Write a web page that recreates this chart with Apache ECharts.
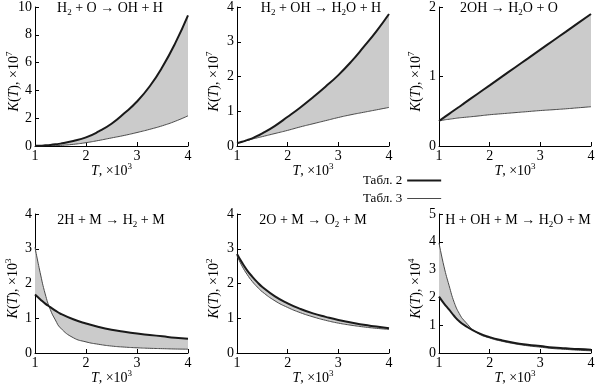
<!DOCTYPE html>
<html><head><meta charset="utf-8">
<script src="https://cdn.jsdelivr.net/npm/echarts@6/dist/echarts.min.js"></script>
<style>html,body{margin:0;padding:0;background:#fff}#c{width:598px;height:387px}</style>
</head><body><div id="c"></div>
<script>
// Temperature grid (×10^3 K)
const T = [1, 1.1, 1.2, 1.3, 1.4, 1.5, 1.75, 2, 2.25, 2.5, 2.75, 3, 3.25, 3.5, 3.75, 4];
const xTicks = [1, 2, 3, 4];
const legendNames = ['Табл. 2', 'Табл. 3'];

// Panel 1: H2 + O -> OH + H  (×10^7)
const p1_tab2 = [0.01, 0.025, 0.05, 0.08, 0.12, 0.17, 0.36, 0.62, 1.05, 1.6, 2.35, 3.2, 4.3, 5.7, 7.4, 9.4];
const p1_tab3 = [0.003, 0.006, 0.012, 0.02, 0.03, 0.045, 0.12, 0.24, 0.4, 0.58, 0.76, 0.97, 1.2, 1.46, 1.78, 2.17];
// Panel 2: H2 + OH -> H2O + H  (×10^7)
const p2_tab2 = [0.08, 0.12, 0.17, 0.22, 0.29, 0.36, 0.58, 0.84, 1.11, 1.40, 1.71, 2.04, 2.42, 2.85, 3.3, 3.8];
const p2_tab3 = [0.08, 0.12, 0.16, 0.2, 0.235, 0.27, 0.36, 0.45, 0.55, 0.64, 0.73, 0.82, 0.9, 0.97, 1.04, 1.11];
// Panel 3: 2OH -> H2O + O  (×10^7)
const p3_tab2 = [0.36, 0.411, 0.463, 0.514, 0.565, 0.617, 0.745, 0.873, 1.002, 1.13, 1.258, 1.387, 1.515, 1.643, 1.772, 1.9];
const p3_tab3 = [0.36, 0.375, 0.385, 0.395, 0.405, 0.412, 0.43, 0.45, 0.465, 0.48, 0.495, 0.51, 0.522, 0.535, 0.55, 0.565];
// Panel 4: 2H + M -> H2 + M  (×10^3)
const p4_tab2 = [1.68, 1.55, 1.42, 1.32, 1.22, 1.13, 0.97, 0.85, 0.75, 0.67, 0.61, 0.56, 0.52, 0.48, 0.44, 0.41];
const p4_tab3 = [3.04, 2.32, 1.7, 1.25, 0.95, 0.72, 0.44, 0.32, 0.25, 0.2, 0.17, 0.15, 0.135, 0.125, 0.115, 0.11];
// Panel 5: 2O + M -> O2 + M  (×10^2)
const p5_tab2 = [2.85, 2.6, 2.38, 2.2, 2.04, 1.9, 1.63, 1.43, 1.27, 1.14, 1.04, 0.95, 0.88, 0.81, 0.76, 0.71];
const p5_tab3 = [2.8, 2.5, 2.26, 2.06, 1.9, 1.76, 1.5, 1.31, 1.16, 1.04, 0.94, 0.86, 0.8, 0.75, 0.71, 0.68];
// Panel 6: H + OH + M -> H2O + M  (×10^4)
const p6_tab2 = [2.03, 1.78, 1.56, 1.33, 1.14, 1.0, 0.74, 0.57, 0.45, 0.36, 0.3, 0.25, 0.2, 0.17, 0.14, 0.12];
const p6_tab3 = [3.96, 3.1, 2.42, 1.82, 1.42, 1.16, 0.73, 0.54, 0.42, 0.33, 0.26, 0.21, 0.16, 0.13, 0.1, 0.08];

const titles = [
  'H{sub|2} + O → OH + H',
  'H{sub|2} + OH → H{sub|2}O + H',
  '2OH → H{sub|2}O + O',
  '2H + M → H{sub|2} + M',
  '2O + M → O{sub|2} + M',
  'H + OH + M → H{sub|2}O + M'
];
const yMax = [10, 4, 2, 4, 4, 5];
const yInterval = [2, 1, 1, 1, 1, 1];
const yExp = ['7', '7', '7', '3', '2', '4'];

const tab2 = [p1_tab2, p2_tab2, p3_tab2, p4_tab2, p5_tab2, p6_tab2];
const tab3 = [p1_tab3, p2_tab3, p3_tab3, p4_tab3, p5_tab3, p6_tab3];

// layout (not data)
const gridRects = [[35, 7, 153, 139], [237, 7, 152, 139], [439, 7, 152, 139],
                   [35, 214, 153, 139], [237, 214, 152, 139], [439, 214, 152, 139]];
const yNameGap = [12, 14, 14, 13, 14, 14];
const titlePos = [[110, 8], [321, 8], [509, 8], [111, 220], [313, 220], [518, 220]];
const SMOOTH = 0.5;

const SERIF = 'Liberation Serif';
const nameRich = {
  i: { fontFamily: SERIF, fontSize: 14, fontStyle: 'italic', color: '#000', lineHeight: 18 },
  sup: { fontFamily: SERIF, fontSize: 9, color: '#000', verticalAlign: 'top', lineHeight: 9 }
};

// Same bezier construction that the line series uses, so the band edge follows the lines.
function smoothSegs(pts, smooth) {
  const segs = [];
  let prevX, prevY, cpx0, cpy0, cpx1, cpy1, nCx = 0, nCy = 0;
  const n = pts.length;
  for (let idx = 0; idx < n; idx++) {
    const x = pts[idx][0], y = pts[idx][1];
    if (idx === 0) { cpx0 = x; cpy0 = y; }
    else {
      const ddx = x - prevX, ddy = y - prevY;
      if (ddx * ddx + ddy * ddy < 0.5) continue;
      if (idx === n - 1) { cpx1 = x; cpy1 = y; }
      else {
        const nx = pts[idx + 1][0], ny = pts[idx + 1][1];
        let vx = nx - prevX, vy = ny - prevY;
        const dx0 = x - prevX, dx1 = nx - x, dy0 = y - prevY, dy1 = ny - y;
        const lp = Math.sqrt(dx0 * dx0 + dy0 * dy0), ln = Math.sqrt(dx1 * dx1 + dy1 * dy1);
        const r = ln / (ln + lp);
        nCx = x + vx * smooth * r; nCy = y + vy * smooth * r;
        nCx = Math.min(nCx, Math.max(nx, x)); nCy = Math.min(nCy, Math.max(ny, y));
        nCx = Math.max(nCx, Math.min(nx, x)); nCy = Math.max(nCy, Math.min(ny, y));
        vx = nCx - x; vy = nCy - y;
        cpx1 = x - vx * lp / ln; cpy1 = y - vy * lp / ln;
        cpx1 = Math.min(cpx1, Math.max(prevX, x)); cpy1 = Math.min(cpy1, Math.max(prevY, y));
        cpx1 = Math.max(cpx1, Math.min(prevX, x)); cpy1 = Math.max(cpy1, Math.min(prevY, y));
        vx = x - cpx1; vy = y - cpy1;
        nCx = x + vx * ln / lp; nCy = y + vy * ln / lp;
      }
      segs.push({ sx: prevX, sy: prevY, c0x: cpx0, c0y: cpy0, c1x: cpx1, c1y: cpy1, x: x, y: y });
      cpx0 = nCx; cpy0 = nCy;
    }
    prevX = x; prevY = y;
  }
  return segs;
}

const grid = [], xAxis = [], yAxis = [], series = [];
for (let k = 0; k < 6; k++) {
  const g = gridRects[k];
  grid.push({ left: g[0], top: g[1], width: g[2], height: g[3], outerBoundsMode: 'none', containLabel: false });
  xAxis.push({
    gridIndex: k, type: 'value', min: xTicks[0], max: xTicks[xTicks.length - 1], interval: 1,
    name: '{i|T}, ×10{sup|3}', nameLocation: 'middle', nameGap: 16, nameMoveOverlap: false,
    nameTextStyle: { fontFamily: SERIF, fontSize: 14, color: '#000', lineHeight: 18, rich: nameRich },
    axisLine: { show: true, lineStyle: { color: '#000', width: 1 } },
    axisTick: { show: true, inside: true, length: 4, lineStyle: { color: '#000' } },
    axisLabel: { fontFamily: SERIF, fontSize: 14, color: '#000', margin: 3, hideOverlap: false },
    splitLine: { show: false }
  });
  yAxis.push({
    gridIndex: k, type: 'value', min: 0, max: yMax[k], interval: yInterval[k],
    name: '{i|K}({i|T}), ×10{sup|' + yExp[k] + '}', nameLocation: 'middle', nameGap: yNameGap[k], nameMoveOverlap: false,
    nameTextStyle: { fontFamily: SERIF, fontSize: 14, color: '#000', lineHeight: 18, padding: [0, 10, 0, 0], rich: nameRich },
    axisLine: { show: true, lineStyle: { color: '#000', width: 1 } },
    axisTick: { show: true, inside: true, length: 4, lineStyle: { color: '#000' } },
    axisLabel: { fontFamily: SERIF, fontSize: 14, color: '#000', margin: 3, hideOverlap: false },
    splitLine: { show: false }
  });
  const a = tab2[k], b = tab3[k];
  series.push({
    type: 'custom', xAxisIndex: k, yAxisIndex: k, silent: true, z: 1,
    data: [[T[0], 0]],
    renderItem: function (params, api) {
      const pa = T.map((t, i) => api.coord([t, a[i]]));
      const pb = T.map((t, i) => api.coord([t, b[i]]));
      const sa = smoothSegs(pa, SMOOTH), sb = smoothSegs(pb, SMOOTH);
      let d = 'M' + pa[0][0] + ' ' + pa[0][1];
      sa.forEach(s => { d += 'C' + s.c0x + ' ' + s.c0y + ' ' + s.c1x + ' ' + s.c1y + ' ' + s.x + ' ' + s.y; });
      const lb = pb[pb.length - 1];
      d += 'L' + lb[0] + ' ' + lb[1];
      for (let j = sb.length - 1; j >= 0; j--) {
        const s = sb[j];
        d += 'C' + s.c1x + ' ' + s.c1y + ' ' + s.c0x + ' ' + s.c0y + ' ' + s.sx + ' ' + s.sy;
      }
      d += 'Z';
      return { type: 'path', shape: { pathData: d }, style: { fill: '#cbcbcb', stroke: null } };
    }
  });
  series.push({
    type: 'line', name: legendNames[1], xAxisIndex: k, yAxisIndex: k, z: 3,
    data: T.map((t, i) => [t, b[i]]), symbol: 'none', smooth: SMOOTH,
    lineStyle: { color: '#4a4a4a', width: 1 }, itemStyle: { color: '#4a4a4a' }
  });
  series.push({
    type: 'line', name: legendNames[0], xAxisIndex: k, yAxisIndex: k, z: 4,
    data: T.map((t, i) => [t, a[i]]), symbol: 'none', smooth: SMOOTH,
    lineStyle: { color: '#1a1a1a', width: 2 }, itemStyle: { color: '#1a1a1a' }
  });
}

const graphic = titles.map((t, k) => ({
  type: 'text', x: titlePos[k][0], y: titlePos[k][1], silent: true,
  style: {
    text: t, fontFamily: SERIF, fontSize: 14, fill: '#000', align: 'center', verticalAlign: 'middle', lineHeight: 18,
    rich: { sub: { fontFamily: SERIF, fontSize: 9, fill: '#000', verticalAlign: 'bottom', lineHeight: 9 } }
  }
}));

const chart = echarts.init(document.getElementById('c'), null, { renderer: 'canvas' });
chart.setOption({
  animation: false,
  backgroundColor: '#fff',
  grid, xAxis, yAxis, series, graphic,
  legend: {
    data: [
      { name: legendNames[0], icon: 'path://M0,0H34V2H0Z' },
      { name: legendNames[1], icon: 'path://M0,0H34V1H0Z' }
    ],
    orient: 'vertical', align: 'right', left: 363, top: 174,
    itemWidth: 34, itemHeight: 14, itemGap: 5, padding: 0, selectedMode: false,
    textStyle: { fontFamily: SERIF, fontSize: 13, color: '#000' }
  }
});
</script></body></html>
